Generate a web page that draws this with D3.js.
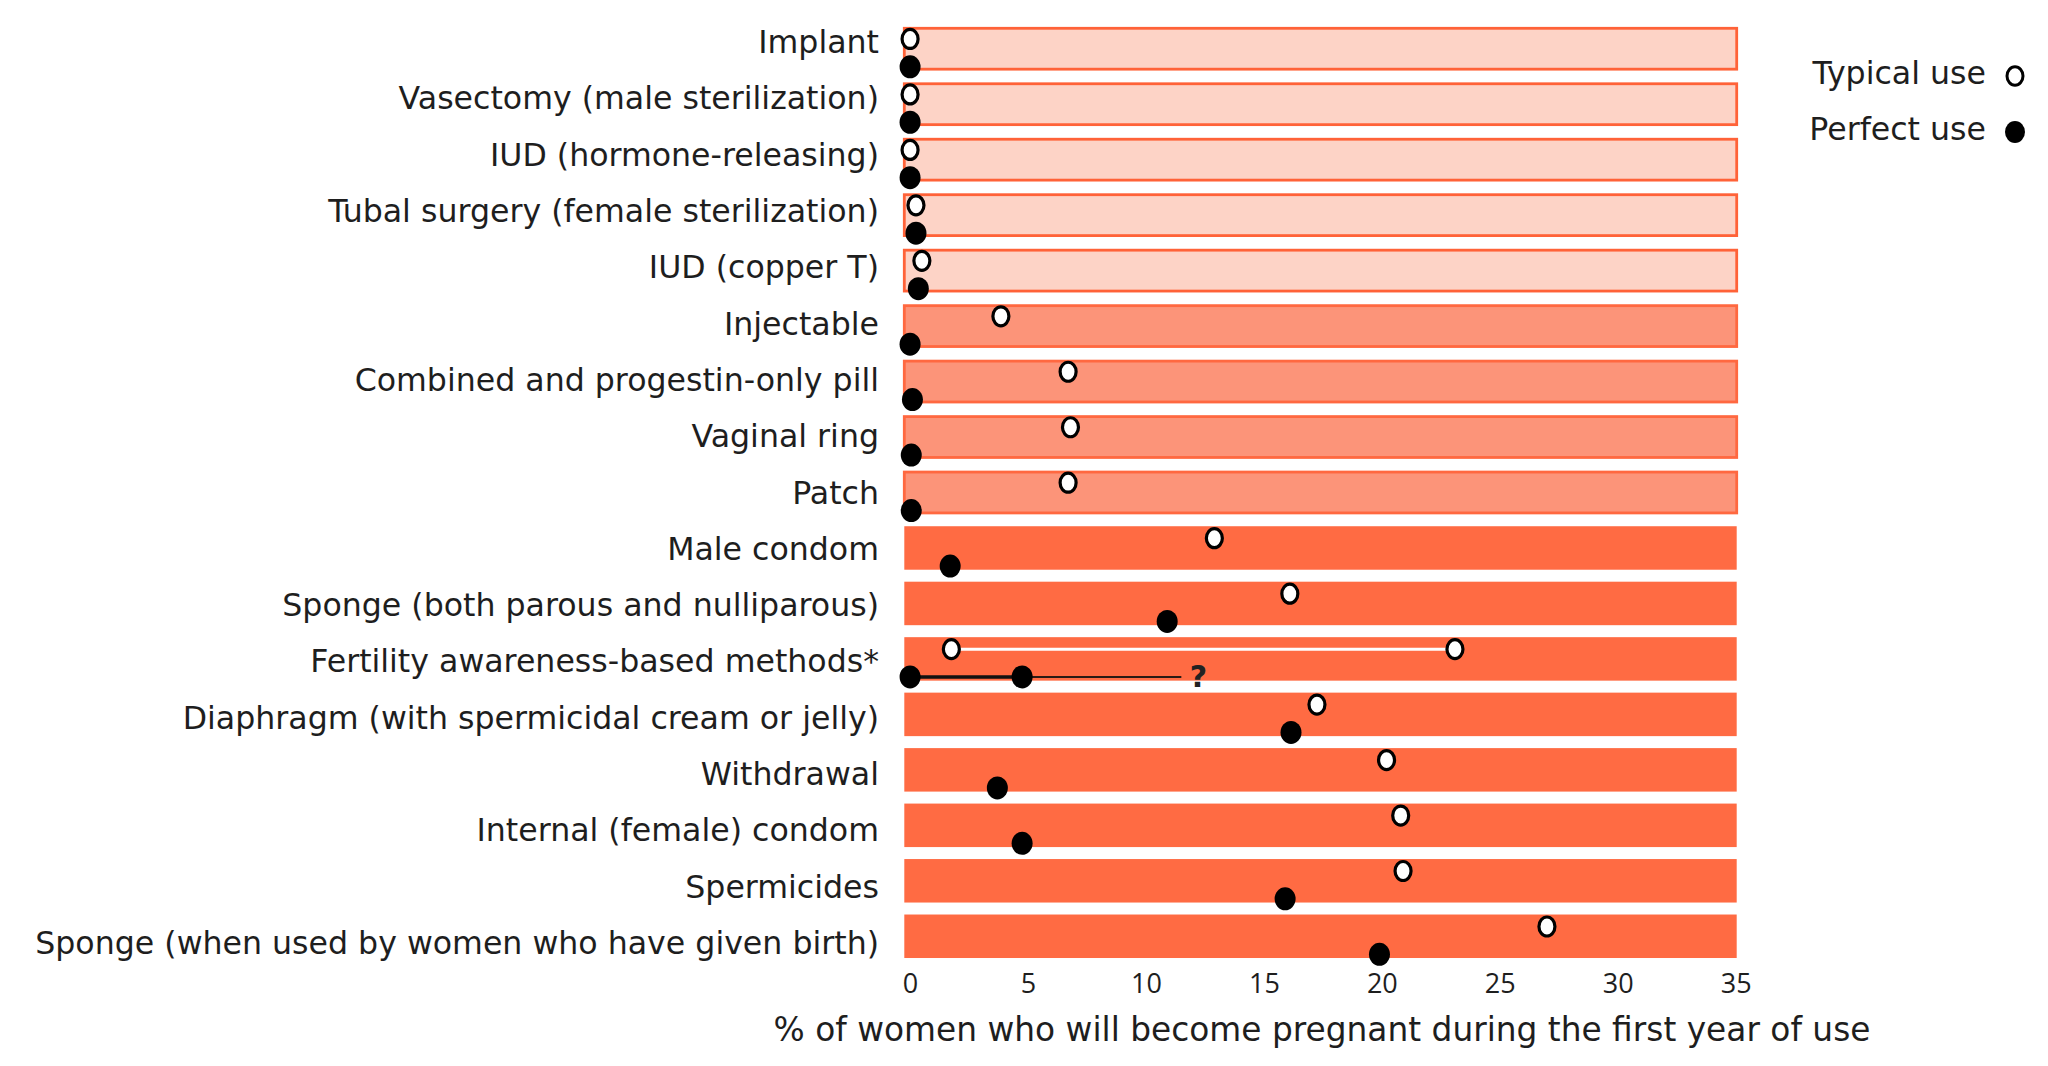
<!DOCTYPE html>
<html>
<head>
<meta charset="utf-8">
<script src="https://cdn.jsdelivr.net/npm/d3@7"></script>
<style>
  html, body { margin: 0; padding: 0; background: #ffffff; }
  svg { display: block; }
  text { font-family: "DejaVu Sans", "Noto Sans", sans-serif; fill: #1e1e1e; }
</style>
</head>
<body>
<svg id="chart" width="2048" height="1066"></svg>
<script>
// ---------------- data ----------------
const categories = [
  "Implant",
  "Vasectomy (male sterilization)",
  "IUD (hormone-releasing)",
  "Tubal surgery (female sterilization)",
  "IUD (copper T)",
  "Injectable",
  "Combined and progestin-only pill",
  "Vaginal ring",
  "Patch",
  "Male condom",
  "Sponge (both parous and nulliparous)",
  "Fertility awareness-based methods*",
  "Diaphragm (with spermicidal cream or jelly)",
  "Withdrawal",
  "Internal (female) condom",
  "Spermicides",
  "Sponge (when used by women who have given birth)"
];
// effectiveness tier (1 = most effective, 3 = least)
const tiers = [1,1,1,1,1, 2,2,2,2, 3,3,3,3,3,3,3,3];
// % pregnant in first year — typical use (null where a range is shown)
const typicalUse = [0, 0, 0, 0.25, 0.5, 3.85, 6.7, 6.8, 6.7, 12.9, 16.1, null, 17.25, 20.2, 20.8, 20.9, 27.0];
// % pregnant in first year — perfect use (null where a range is shown)
const perfectUse = [0, 0, 0, 0.25, 0.35, 0, 0.1, 0.05, 0.05, 1.7, 10.9, null, 16.15, 3.7, 4.75, 15.9, 19.9];
// ranges for fertility awareness-based methods
const fabTypicalRange = [1.75, 23.1];
const fabPerfectRange = [0, 4.75];
const fabPerfectUnknownEnd = 11.5;
const tickValues = [0, 5, 10, 15, 20, 25, 30, 35];
const legendItems = ["Typical use", "Perfect use"];
const axisTitle = "% of women who will become pregnant during the first year of use";

// ---------------- styles ----------------
const tierFill = {1: "#FDD3C6", 2: "#FC9479", 3: "#FF6B43"};
const tierStroke = {1: "#FF6238", 2: "#FF6840", 3: "none"};

const svg = d3.select("#chart");

const x = d3.scaleLinear().domain([-0.3, 35.1]).range([903, 1738]);
const y = d3.scaleBand().domain(categories)
  .range([21, 964]).paddingInner(0.216).paddingOuter(0.108);
const yLabel = d3.scalePoint().domain(categories).range([42, 943]);

const rows = categories.map((c, i) => ({
  cat: c, tier: tiers[i], typical: typicalUse[i], perfect: perfectUse[i]
}));

// bars
svg.append("g").selectAll("rect").data(rows).join("rect")
  .attr("x", x(-0.3) + 1.3)
  .attr("y", d => y(d.cat) + (d.tier === 3 ? 0 : 1.3))
  .attr("width", x(35.1) - x(-0.3) - 2.6)
  .attr("height", d => y.bandwidth() - (d.tier === 3 ? 0 : 2.6))
  .attr("fill", d => tierFill[d.tier])
  .attr("stroke", d => tierStroke[d.tier])
  .attr("stroke-width", 2.8);

// category labels
const labelG = svg.append("g");
const labels = labelG.selectAll("text").data(rows).join("text")
  .attr("x", 879)
  .attr("y", d => yLabel(d.cat))
  .attr("text-anchor", "end")
  .attr("dominant-baseline", "central")
  .style("font-size", "28px")
  .text(d => d.cat);
// fit the longest label to its width in the reference
let maxW = 0;
labels.each(function() { maxW = Math.max(maxW, this.getComputedTextLength()); });
const labelSize = 28 * 844 / maxW;
labels.style("font-size", labelSize + "px");

const openOff = 0.275, fillOff = 0.915;
const bw = y.bandwidth();

// fertility awareness lines
const fab = categories[11];
svg.append("line")
  .attr("x1", x(fabTypicalRange[0])).attr("x2", x(fabTypicalRange[1]))
  .attr("y1", y(fab) + bw * openOff).attr("y2", y(fab) + bw * openOff)
  .attr("stroke", "#ffffff").attr("stroke-width", 3);
svg.append("line")
  .attr("x1", x(fabPerfectRange[0])).attr("x2", x(fabPerfectRange[1]))
  .attr("y1", y(fab) + bw * fillOff).attr("y2", y(fab) + bw * fillOff)
  .attr("stroke", "#111").attr("stroke-width", 3.5);
svg.append("line")
  .attr("x1", x(fabPerfectRange[1])).attr("x2", x(fabPerfectUnknownEnd))
  .attr("y1", y(fab) + bw * fillOff).attr("y2", y(fab) + bw * fillOff)
  .attr("stroke", "#2a1a14").attr("stroke-width", 2);
svg.append("text")
  .attr("x", x(fabPerfectUnknownEnd) + 17)
  .attr("y", y(fab) + bw * fillOff)
  .attr("text-anchor", "middle")
  .attr("dominant-baseline", "central")
  .style("font-size", "30px").style("font-weight", "bold")
  .style("fill", "#222")
  .text("?");

// points
const openPts = [];
const fillPts = [];
rows.forEach(d => {
  if (d.typical !== null) openPts.push({cat: d.cat, v: d.typical});
  if (d.perfect !== null) fillPts.push({cat: d.cat, v: d.perfect});
});
fabTypicalRange.forEach(v => openPts.push({cat: fab, v}));
fabPerfectRange.forEach(v => fillPts.push({cat: fab, v}));

svg.append("g").selectAll("ellipse").data(fillPts).join("ellipse")
  .attr("cx", d => x(d.v))
  .attr("cy", d => y(d.cat) + bw * fillOff)
  .attr("rx", 10.5).attr("ry", 11.5)
  .attr("fill", "#000");

svg.append("g").selectAll("ellipse").data(openPts).join("ellipse")
  .attr("cx", d => x(d.v))
  .attr("cy", d => y(d.cat) + bw * openOff)
  .attr("rx", 8).attr("ry", 9.5)
  .attr("fill", "#fff").attr("stroke", "#000").attr("stroke-width", 3.2);

// x axis
const axis = d3.axisBottom(x).tickValues(tickValues).tickSize(0).tickPadding(0);
const axG = svg.append("g").attr("transform", "translate(0,973)").call(axis);
axG.select(".domain").remove();
axG.selectAll("text")
  .style("font-family", "'Open Sans', 'Noto Sans', sans-serif")
  .style("font-size", "27px")
  .style("fill", "#1e1e1e")
  .attr("dy", "0.75em");

// axis title
const title = svg.append("text")
  .attr("x", 1322).attr("y", 1030)
  .attr("text-anchor", "middle")
  .attr("dominant-baseline", "central")
  .style("font-size", labelSize + "px")
  .text(axisTitle);
const tw = title.node().getComputedTextLength();
title.style("font-size", (labelSize * 1097 / tw) + "px");

// legend
const legendY = [73, 129];
const legG = svg.append("g");
legG.selectAll("text").data(legendItems).join("text")
  .attr("x", 1986)
  .attr("y", (d, i) => legendY[i])
  .attr("text-anchor", "end")
  .attr("dominant-baseline", "central")
  .style("font-size", labelSize + "px")
  .text(d => d);
legG.append("ellipse")
  .attr("cx", 2015).attr("cy", legendY[0] + 3)
  .attr("rx", 8).attr("ry", 9.2)
  .attr("fill", "#fff").attr("stroke", "#000").attr("stroke-width", 3);
legG.append("ellipse")
  .attr("cx", 2015).attr("cy", legendY[1] + 3)
  .attr("rx", 10).attr("ry", 11)
  .attr("fill", "#000");
</script>
</body>
</html>
